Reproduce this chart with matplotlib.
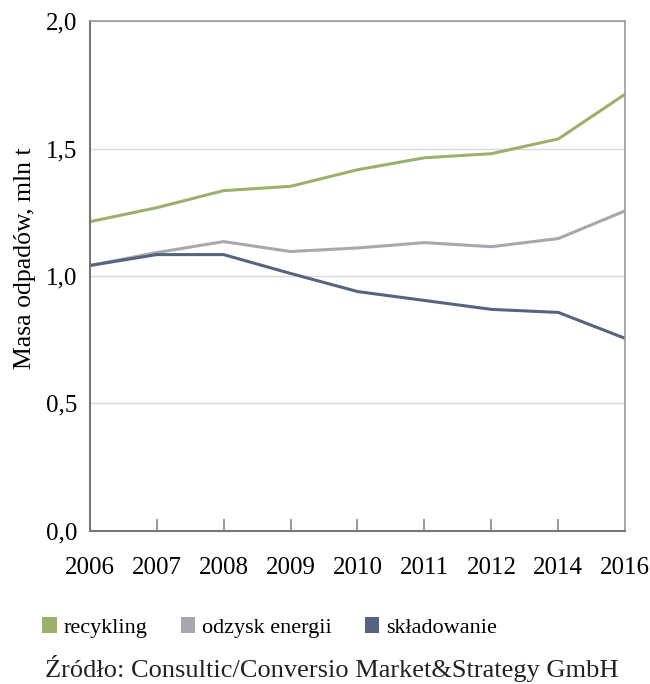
import matplotlib
matplotlib.use("Agg")
import matplotlib.pyplot as plt
from matplotlib.patches import Patch

plt.rcParams['font.family'] = ['Liberation Serif', 'DejaVu Serif']

years = ["2006", "2007", "2008", "2009", "2010", "2011", "2012", "2014", "2016"]
recykling = [1.213, 1.268, 1.335, 1.352, 1.417, 1.464, 1.480, 1.538, 1.714]
odzysk = [1.041, 1.092, 1.135, 1.096, 1.110, 1.131, 1.115, 1.147, 1.256]
skladowanie = [1.041, 1.084, 1.084, 1.010, 0.939, 0.904, 0.869, 0.857, 0.755]
y_ticks = [0.0, 0.5, 1.0, 1.5, 2.0]
y_labels = ["0,0", "0,5", "1,0", "1,5", "2,0"]
series_names = ["recykling", "odzysk energii", "składowanie"]
colors = ["#9bb06a", "#a7a8ad", "#56647f"]

fig = plt.figure(figsize=(6.5, 6.84), dpi=100)
ax = fig.add_axes([0.138, 0.224, 0.824, 0.745])

x = list(range(len(years)))
for vals, c in zip([recykling, odzysk, skladowanie], colors):
    ax.plot(x, vals, color=c, lw=2.2, solid_capstyle='butt')

ax.set_xlim(0, len(years) - 1)
ax.set_ylim(0, 2.0)
ax.set_yticks(y_ticks)
ax.set_yticklabels(y_labels, fontsize=18)
ax.set_xticks(x)
ax.set_xticklabels(years, fontsize=18)
ax.tick_params(axis='y', length=0, pad=9)
ax.tick_params(axis='x', direction='in', length=9, width=1.2, color='#888888', pad=19)
for t in ax.xaxis.get_major_ticks()[0:1] + ax.xaxis.get_major_ticks()[-1:]:
    t.tick1line.set_visible(False)
ax.grid(axis='y', color='#d9d9d9', lw=1.0)
ax.set_axisbelow(True)
for s in ['top', 'right']:
    ax.spines[s].set_color('#9a9a9a')
    ax.spines[s].set_linewidth(1.2)
for s in ['left', 'bottom']:
    ax.spines[s].set_color('#777777')
    ax.spines[s].set_linewidth(1.5)
ax.set_ylabel("Masa odpadów, mln t", fontsize=18.5, labelpad=10)
ax.yaxis.set_label_coords(-0.10, 0.535)

handles = [Patch(facecolor=c, edgecolor='none') for c in colors]
fig.legend(handles, series_names, loc='center', bbox_to_anchor=(0.415, 0.083), ncol=3,
           frameon=False, fontsize=16, handlelength=0.65, handleheight=0.7,
           handletextpad=0.3, columnspacing=1.5, borderpad=0, borderaxespad=0)
fig.text(0.511, 0.023, "Źródło: Consultic/Conversio Market&Strategy GmbH", ha='center',
         va='center', fontsize=19, color='#222222')

fig.savefig("out.png", dpi=100)
